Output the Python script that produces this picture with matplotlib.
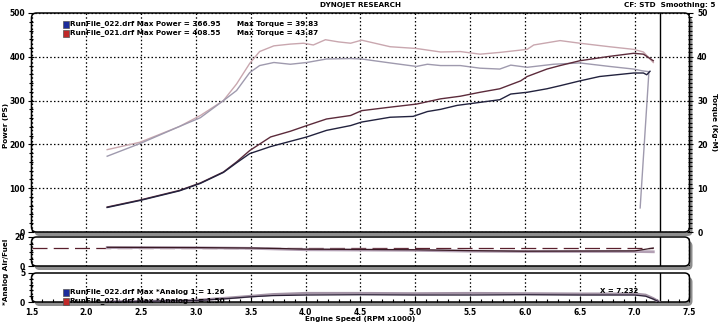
import matplotlib
matplotlib.use("Agg")
import matplotlib.pyplot as plt
from matplotlib.patches import FancyBboxPatch, Rectangle
from matplotlib.ticker import MultipleLocator

# Potencia (PS)
rpm_pot_021 = [2.19, 2.49, 2.85, 3.04, 3.25, 3.37, 3.49, 3.68, 3.86, 4.01, 4.19, 4.41, 4.51, 4.77,
               5.01, 5.23, 5.41, 5.59, 5.77, 5.96, 6.02, 6.20, 6.32, 6.50, 6.77, 6.99, 7.08, 7.17]
pot_021 = [57, 73, 95, 112, 137, 160, 186, 217, 230, 243, 258, 266, 277, 285,
           292, 304, 310, 319, 327, 345, 355, 372, 380, 391, 401, 408, 406, 391]
rpm_pot_022 = [2.19, 2.49, 2.85, 3.04, 3.25, 3.37, 3.49, 3.68, 3.86, 4.01, 4.19, 4.41, 4.51, 4.77,
               4.98, 5.11, 5.23, 5.38, 5.59, 5.77, 5.87, 6.02, 6.20, 6.32, 6.50, 6.68, 6.99, 7.08, 7.11, 7.14]
pot_022 = [56, 72, 94, 111, 136, 158, 179, 195, 207, 217, 232, 243, 251, 262,
           264, 275, 280, 289, 296, 302, 315, 319, 327, 334, 345, 355, 363, 363, 359, 367]

# Par (Kg-M)
rpm_par_021 = [2.19, 2.49, 2.85, 3.04, 3.25, 3.37, 3.49, 3.58, 3.71, 3.86, 3.98, 4.07, 4.18, 4.30, 4.41,
               4.51, 4.77, 5.01, 5.23, 5.41, 5.59, 5.77, 6.02, 6.08, 6.20, 6.32, 6.50, 6.77, 6.99, 7.08, 7.17]
par_021 = [18.8, 20.5, 24.1, 26.6, 30.0, 33.8, 38.5, 41.2, 42.5, 42.9, 43.1, 42.7, 43.9, 43.4, 43.1,
           43.8, 42.3, 41.9, 41.1, 41.2, 40.6, 41.0, 41.7, 42.7, 43.2, 43.7, 43.1, 42.3, 41.7, 41.1, 38.7]
rpm_par_022 = [2.19, 2.49, 2.85, 3.04, 3.25, 3.37, 3.49, 3.58, 3.71, 3.86, 4.01, 4.19, 4.41, 4.51, 4.77,
               5.01, 5.11, 5.23, 5.41, 5.59, 5.77, 5.87, 6.02, 6.26, 6.50, 6.77, 6.99, 7.07, 7.13, 7.05]
par_022 = [17.3, 20.2, 24.1, 26.1, 30.0, 32.3, 36.4, 38.0, 38.7, 38.3, 38.7, 39.5, 39.6, 39.5, 38.6,
           37.8, 38.3, 38.0, 38.0, 37.4, 37.2, 38.1, 37.6, 38.3, 38.6, 37.8, 37.2, 36.8, 36.6, 5.5]

# Air/Fuel
rpm_afr = [2.19, 2.5, 3.0, 3.5, 3.8, 4.0, 4.5, 5.0, 5.5, 6.0, 6.5, 7.0, 7.17]
afr_021 = [12.9, 12.8, 12.7, 12.4, 12.0, 11.6, 11.4, 11.2, 10.6, 10.2, 10.3, 10.4, 12.4]
afr_022 = [12.7, 12.7, 12.6, 12.2, 11.6, 11.2, 11.0, 10.8, 10.2, 10.0, 10.0, 10.0, 9.8]
afr_ref = 12.6

# Analog 1
rpm_an = [2.19, 2.5, 3.0, 3.3, 3.5, 3.7, 4.0, 4.5, 5.0, 5.5, 6.0, 6.5, 7.0, 7.1, 7.17, 7.22]
an_021 = [0.05, 0.1, 0.3, 0.7, 1.0, 1.3, 1.5, 1.5, 1.45, 1.5, 1.45, 1.4, 1.4, 1.2, 0.6, 0.05]
an_022 = [0.05, 0.1, 0.25, 0.6, 0.9, 1.1, 1.2, 1.25, 1.2, 1.2, 1.25, 1.2, 1.2, 1.0, 0.5, 0.05]

cursor_rpm = 7.232
x_ticks = [1.5, 2.0, 2.5, 3.0, 3.5, 4.0, 4.5, 5.0, 5.5, 6.0, 6.5, 7.0, 7.5]
pot_ticks = [0, 100, 200, 300, 400, 500]
par_ticks = [0, 10, 20, 30, 40, 50]

W, H = 720, 324
fig = plt.figure(figsize=(7.2, 3.24), dpi=100)
fig.patch.set_facecolor("white")
fs = 5.5
bold = dict(fontsize=5.2, fontweight="bold", family="DejaVu Sans")
grid_ls = (0, (1.2, 1.8))


def eje(x0, y0, x1, y1):
    a = fig.add_axes([x0 / W, 1 - y1 / H, (x1 - x0) / W, (y1 - y0) / H])
    a.patch.set_alpha(0)
    for s in a.spines.values():
        s.set_visible(False)
    # sombra y marco redondeado
    r = 0.05
    sombra = FancyBboxPatch(((x0 + 3) / 100, (H - y1 - 4) / 100), (x1 - x0) / 100, (y1 - y0) / 100,
                            boxstyle=f"round,pad=0,rounding_size={r}", transform=fig.dpi_scale_trans,
                            facecolor="#8e8e8e", edgecolor="none", zorder=-3)
    marco = FancyBboxPatch((x0 / 100, (H - y1) / 100), (x1 - x0) / 100, (y1 - y0) / 100,
                           boxstyle=f"round,pad=0,rounding_size={r}", transform=fig.dpi_scale_trans,
                           facecolor="white", edgecolor="black", lw=1.1, zorder=-2)
    fig.add_artist(sombra)
    fig.add_artist(marco)
    a.set_xlim(1.5, 7.5)
    a.set_xticks(x_ticks)
    a.grid(True, axis="x", color="black", linestyle=grid_ls, lw=0.9)
    a.axvline(cursor_rpm, color="black", lw=1.0)
    a.tick_params(axis="y", direction="inout", length=5, width=0.8, labelsize=fs, pad=2)
    a.tick_params(axis="y", which="minor", direction="inout", length=3, width=0.8)
    return a


# Panel principal
ax = eje(31.5, 13, 689.5, 232)
ax.set_ylim(0, 500)
ax.set_yticks(pot_ticks, [str(v) for v in pot_ticks], fontweight="bold", fontsize=fs)
ax.yaxis.set_minor_locator(MultipleLocator(20))
ax.grid(True, axis="y", color="black", linestyle=grid_ls, lw=0.9)
ax.tick_params(axis="x", bottom=False, labelbottom=False)
ax.plot(rpm_par_021, [v * 10 for v in par_021], color="#c9a7af", lw=1.0)
ax.plot(rpm_par_022, [v * 10 for v in par_022], color="#9f9aae", lw=1.0)
ax.plot(rpm_pot_021, pot_021, color="#5c2b3b", lw=1.0)
ax.plot(rpm_pot_022, pot_022, color="#22223e", lw=1.0)

ax2 = ax.twinx()
for s in ax2.spines.values():
    s.set_visible(False)
ax2.set_ylim(0, 50)
ax2.set_yticks(par_ticks, [str(v) for v in par_ticks], fontweight="bold", fontsize=fs)
ax2.yaxis.set_minor_locator(MultipleLocator(1))
ax2.tick_params(axis="y", direction="inout", length=5, width=0.8, labelsize=fs, pad=3)
ax2.tick_params(axis="y", which="minor", direction="inout", length=3, width=0.8)

# Panel Air/Fuel
ax3 = eje(31.5, 237, 689.5, 266)
ax3.set_ylim(0, 20)
ax3.set_yticks([0, 20], ["0", "20"], fontweight="bold", fontsize=fs)
ax3.yaxis.set_minor_locator(MultipleLocator(5))
ax3.tick_params(axis="x", bottom=False, labelbottom=False)
ax3.plot([1.5, 7.17], [afr_ref, afr_ref], color="#5a1f2c", lw=0.9, dashes=(12, 5))
ax3.plot(rpm_afr, afr_022, color="#b3a0b4", lw=2.0)
ax3.plot(rpm_afr, afr_021, color="#3a1a24", lw=0.9)

# Panel Analog 1
ax4 = eje(31.5, 273, 689.5, 302)
ax4.set_ylim(0, 5)
ax4.set_yticks([0, 5], ["0", "5"], fontweight="bold", fontsize=fs)
ax4.yaxis.set_minor_locator(MultipleLocator(1))
ax4.set_xticks(x_ticks, [f"{v:.1f}" for v in x_ticks], fontweight="bold", fontsize=fs)
ax4.xaxis.set_minor_locator(MultipleLocator(0.1))
ax4.tick_params(axis="x", direction="in", length=4, width=0.8, labelsize=fs, pad=4)
ax4.tick_params(axis="x", which="minor", direction="in", length=2.5, width=0.8)
ax4.plot(rpm_an, an_021, color="#a494a6", lw=2.0)
ax4.plot(rpm_an, an_022, color="#2c2238", lw=0.9)
ax4.text(6.68, 1.6, "X = 7.232", fontsize=5, fontweight="bold", family="DejaVu Sans")

# Textos
fig.text(360 / W, 1 - 5 / H, "DYNOJET RESEARCH", ha="center", va="center", **bold)
fig.text(715 / W, 1 - 5 / H, "CF: STD  Smoothing: 5", ha="right", va="center", **bold)
fig.text(360 / W, 1 - 319.5 / H, "Engine Speed (RPM x1000)", ha="center", va="center", **bold)
fig.text(6 / W, 1 - 125 / H, "Power (PS)", rotation=90, ha="center", va="center", **bold)
fig.text(6 / W, 1 - 272 / H, "*Analog Air/Fuel", rotation=90, ha="center", va="center", **bold)
fig.text(714 / W, 1 - 122 / H, "Torque (Kg-M)", rotation=270, ha="center", va="center", **bold)

leyenda = [
    (24, "#1c2c9c", "RunFile_022.drf Max Power = 366.95", "Max Torque = 39.83"),
    (33, "#c02828", "RunFile_021.drf Max Power = 408.55", "Max Torque = 43.87"),
    (292, "#1c2c9c", "RunFile_022.drf Max *Analog 1 = 1.26", None),
    (301, "#c02828", "RunFile_021.drf Max *Analog 1 = 1.50", None),
]
for y, col, t1, t2 in leyenda:
    fig.add_artist(Rectangle((63 / W, 1 - (y + 3.5) / H), 6 / W, 7 / H, transform=fig.transFigure,
                             facecolor=col, edgecolor="#555555", lw=0.5, zorder=5))
    fig.text(70.5 / W, 1 - y / H, t1, ha="left", va="center", zorder=6, **bold)
    if t2:
        fig.text(237 / W, 1 - y / H, t2, ha="left", va="center", zorder=6, **bold)

fig.savefig("out.png", dpi=100, facecolor="white")
